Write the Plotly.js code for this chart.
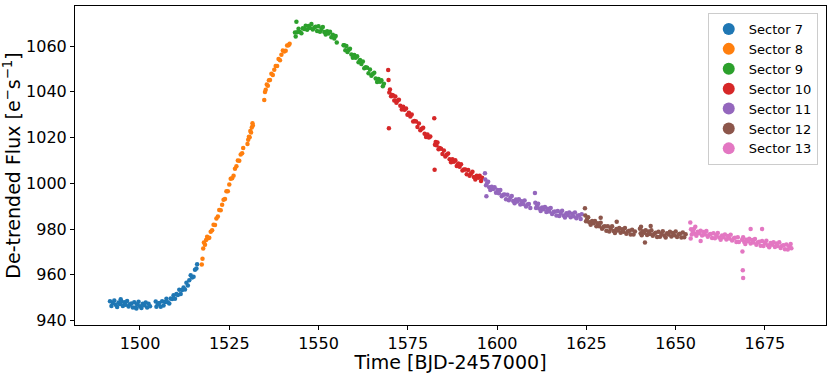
<!DOCTYPE html>
<html>
<head>
<meta charset="utf-8">
<script src="https://cdn.plot.ly/plotly-3.0.1.min.js"></script>
<style>
  html, body { margin: 0; padding: 0; background: #fff; }
  #plot { width: 831px; height: 373px; }
</style>
</head>
<body>
<div id="plot"></div>
<script>
// TESS light curve, one array pair per sector (time, flux)
var sectorNames = ['Sector 7', 'Sector 8', 'Sector 9', 'Sector 10', 'Sector 11', 'Sector 12', 'Sector 13'];
var sectorColors = ['#1f77b4', '#ff7f0e', '#2ca02c', '#d62728', '#9467bd', '#8c564b', '#e377c2'];

var s7_t = [1491.6, 1492.0, 1492.4, 1492.8, 1493.2, 1493.6, 1494.0, 1494.4, 1494.6, 1494.8, 1495.2, 1495.6, 1496.0, 1496.4, 1496.8, 1497.2, 1497.6, 1498.0, 1498.4, 1498.8, 1499.0, 1499.2, 1499.6, 1500.0, 1500.4, 1500.8, 1501.2, 1501.6, 1502.0, 1502.4, 1502.8,
  1504.4, 1504.6, 1505.0, 1505.4, 1505.8, 1506.2, 1506.6, 1507.0, 1507.4, 1507.8, 1508.2, 1508.6, 1509.0, 1509.4, 1509.8, 1510.2, 1510.6, 1511.0, 1511.4, 1511.8, 1512.2, 1512.6, 1513.0, 1513.4, 1513.8, 1514.2, 1514.6, 1515.0, 1515.4, 1515.8, 1516.0];
var s7_f = [948.5, 946.4, 947.7, 948.8, 946.9, 946.0, 947.9, 947.3, 949.4, 948.4, 946.4, 948.0, 946.9, 948.6, 946.2, 947.2, 947.5, 945.8, 948.0, 945.8, 945.3, 947.2, 948.3, 946.3, 945.5, 947.4, 946.7, 947.9, 945.8, 947.4, 946.3,
  948.4, 946.1, 947.2, 947.7, 946.1, 948.5, 946.6, 948.2, 949.6, 948.0, 947.5, 949.7, 949.5, 951.1, 949.6, 951.7, 951.2, 953.5, 951.7, 953.4, 954.5, 953.6, 956.6, 955.4, 957.7, 959.8, 958.9, 959.2, 962.2, 962.8, 964.7];

var s8_t = [1517.3, 1517.5, 1517.7, 1517.9, 1518.2, 1518.5, 1518.8, 1519.1, 1519.4, 1519.8, 1520.2, 1520.6, 1521.0, 1521.4, 1521.8, 1522.2, 1522.6, 1523.0, 1523.4, 1523.8, 1524.2, 1524.6, 1525.0, 1525.4, 1525.8, 1526.2, 1526.6, 1527.0, 1527.4, 1527.8, 1528.2, 1528.6, 1528.9,
  1530.1, 1530.3, 1530.5, 1530.7, 1530.9, 1531.1, 1531.3, 1531.5, 1531.6,
  1534.8, 1535.0, 1535.2, 1535.5, 1535.8, 1536.1, 1536.4, 1536.8, 1537.2, 1537.6, 1538.0, 1538.4, 1538.8, 1539.2, 1539.6, 1540.0, 1540.4, 1540.8, 1541.2, 1541.6, 1541.9];
var s8_f = [964.5, 967.0, 971.5, 974.2, 973.2, 975.2, 976.7, 976.0, 976.2, 978.8, 979.5, 981.9, 981.8, 984.6, 985.5, 988.4, 988.2, 990.7, 992.8, 993.2, 996.6, 996.6, 999.5, 1002.0, 1002.2, 1003.3, 1006.4, 1007.5, 1010.0, 1009.9, 1012.6, 1013.2, 1015.5,
  1017.2, 1019.0, 1020.4, 1020.1, 1022.9, 1022.2, 1024.4, 1026.3, 1025.3,
  1036.4, 1039.9, 1040.9, 1043.2, 1042.7, 1045.0, 1045.2, 1047.9, 1047.4, 1049.6, 1051.3, 1051.3, 1054.3, 1053.8, 1056.2, 1058.1, 1057.6, 1057.9, 1060.2, 1060.4, 1061.0];

var s9_t = [1543.4, 1543.6, 1543.8, 1544.0, 1544.4, 1544.8, 1545.2, 1545.6, 1546.0, 1546.4, 1546.8, 1547.2, 1547.6, 1548.0, 1548.4, 1548.8, 1549.2, 1549.6, 1550.0, 1550.4, 1550.8, 1551.2, 1551.6, 1552.0, 1552.4, 1552.8, 1553.2, 1553.6, 1554.0, 1554.4, 1554.8, 1555.1,
  1557.0, 1557.2, 1557.5, 1557.8, 1558.1, 1558.4, 1558.8, 1559.2, 1559.6, 1560.0, 1560.4, 1560.8, 1561.2, 1561.6, 1562.0, 1562.4, 1562.8, 1563.2, 1563.6, 1564.0, 1564.4, 1564.8, 1565.2, 1565.6, 1566.0, 1566.4, 1566.8, 1567.2, 1567.6, 1568.0, 1568.3];
var s9_f = [1065.9, 1064.2, 1070.6, 1066.0, 1067.6, 1066.1, 1065.6, 1067.8, 1067.5, 1068.9, 1067.1, 1068.8, 1067.9, 1069.6, 1067.2, 1068.1, 1068.4, 1066.6, 1068.6, 1066.3, 1067.5, 1068.3, 1066.1, 1065.0, 1066.5, 1065.5, 1066.3, 1063.8, 1064.9, 1063.3, 1064.4, 1061.5,
  1060.3, 1060.4, 1058.2, 1060.0, 1057.4, 1058.3, 1058.8, 1056.3, 1054.9, 1056.1, 1054.9, 1055.5, 1052.9, 1053.9, 1052.2, 1053.3, 1050.3, 1050.7, 1050.5, 1048.1, 1049.7, 1047.0, 1047.8, 1048.3, 1045.8, 1044.3, 1045.6, 1044.4, 1045.0, 1042.4, 1043.5];

var s10_t = [1569.5, 1569.6, 1569.7, 1569.8, 1570.0, 1570.3, 1570.6, 1570.9, 1571.2, 1571.5, 1571.8, 1572.1, 1572.5, 1572.9, 1573.3, 1573.7, 1574.1, 1574.5, 1574.9, 1575.3, 1575.7, 1576.1, 1576.5, 1576.9, 1577.3, 1577.7, 1578.1, 1578.5, 1578.9, 1579.3, 1579.7, 1580.1, 1580.5, 1580.9, 1581.3,
  1582.4, 1582.5, 1582.6, 1582.8, 1583.0, 1583.3, 1583.6, 1583.9, 1584.3, 1584.7, 1585.1, 1585.5, 1585.9, 1586.3, 1586.7, 1587.1, 1587.5, 1587.9, 1588.3, 1588.7, 1589.1, 1589.5, 1589.9, 1590.3, 1590.7, 1591.1, 1591.5, 1591.9, 1592.3, 1592.7, 1593.1, 1593.5, 1593.9, 1594.3, 1594.7, 1595.1, 1595.5, 1595.8];
var s10_f = [1049.5, 1045.2, 1024.1, 1039.7, 1041.0, 1038.1, 1038.6, 1038.4, 1036.2, 1037.9, 1035.2, 1036.1, 1036.5, 1033.9, 1032.3, 1033.5, 1032.2, 1032.7, 1030.0, 1030.9, 1029.2, 1030.1, 1027.0, 1027.3, 1027.0, 1024.6, 1026.1, 1023.2, 1023.9, 1024.3, 1021.7, 1020.2, 1021.4, 1020.0, 1020.5,
  1028.4, 1005.9, 1016.9, 1018.1, 1016.7, 1017.8, 1014.9, 1015.4, 1015.1, 1012.8, 1014.4, 1011.7, 1012.5, 1013.0, 1010.5, 1009.2, 1010.5, 1009.4, 1010.1, 1007.6, 1008.7, 1007.2, 1008.4, 1005.6, 1006.1, 1006.1, 1004.0, 1005.8, 1003.3, 1004.3, 1005.1, 1002.8, 1001.7, 1003.3, 1002.4, 1003.3, 1001.0, 1002.4];

var s11_t = [1596.6, 1596.7, 1596.9, 1597.0, 1597.2, 1597.5, 1597.8, 1598.1, 1598.5, 1598.9, 1599.3, 1599.7, 1600.1, 1600.5, 1600.9, 1601.3, 1601.7, 1602.1, 1602.5, 1602.9, 1603.3, 1603.7, 1604.1, 1604.5, 1604.9, 1605.3, 1605.7, 1606.1, 1606.5, 1606.9, 1607.3, 1607.7, 1608.1, 1608.5, 1608.9, 1609.3,
  1610.6, 1610.7, 1610.9, 1611.2, 1611.5, 1611.8, 1612.2, 1612.6, 1613.0, 1613.4, 1613.8, 1614.2, 1614.6, 1615.0, 1615.4, 1615.8, 1616.2, 1616.6, 1617.0, 1617.4, 1617.8, 1618.2, 1618.6, 1619.0, 1619.4, 1619.8, 1620.2, 1620.6, 1621.0, 1621.4, 1621.8, 1622.2, 1622.6, 1623.0, 1623.4, 1623.7];
var s11_f = [1004.4, 1001.7, 999.2, 994.4, 1000.1, 1000.7, 998.3, 997.1, 998.5, 997.5, 998.3, 995.9, 997.1, 995.7, 997.1, 994.4, 995.0, 995.1, 993.1, 995.0, 992.6, 993.7, 994.5, 992.3, 991.3, 992.9, 992.1, 993.0, 990.8, 992.2, 991.0, 992.5, 989.9, 990.8, 991.0, 989.2,
  995.8, 991.5, 989.2, 990.3, 991.1, 989.0, 987.9, 989.5, 988.7, 989.7, 987.5, 988.9, 987.7, 989.2, 986.6, 987.5, 987.7, 985.9, 987.9, 985.7, 987.0, 988.0, 986.0, 985.1, 986.9, 986.2, 987.3, 985.2, 986.7, 985.6, 987.3, 984.8, 985.8, 986.1, 984.4, 986.5];

var s12_t = [1624.6, 1624.7, 1624.9, 1625.2, 1625.5, 1625.8, 1626.2, 1626.6, 1627.0, 1627.4, 1627.8, 1628.2, 1628.6, 1629.0, 1629.0, 1629.4, 1629.8, 1630.2, 1630.6, 1631.0, 1631.4, 1631.8, 1632.2, 1632.6, 1633.0, 1633.4, 1633.5, 1633.8, 1634.2, 1634.6, 1635.0, 1635.4, 1635.8, 1636.2, 1636.6, 1637.0, 1637.4, 1637.8, 1638.2, 1638.6,
  1640.0, 1640.2, 1640.3, 1640.5, 1640.8, 1641.2, 1641.4, 1641.6, 1642.0, 1642.4, 1642.8, 1643.0, 1643.2, 1643.6, 1644.0, 1644.4, 1644.8, 1645.2, 1645.6, 1646.0, 1646.4, 1646.8, 1647.2, 1647.6, 1648.0, 1648.4, 1648.8, 1649.2, 1649.6, 1650.0, 1650.4, 1650.8, 1651.2, 1651.6, 1652.0, 1652.4, 1652.8];
var s12_f = [989.1, 985.9, 983.4, 984.4, 985.2, 983.0, 981.9, 983.5, 982.6, 983.5, 981.2, 982.6, 981.3, 982.8, 985.0, 980.2, 981.0, 981.2, 979.3, 981.3, 979.0, 980.2, 981.2, 979.2, 978.3, 980.1, 983.2, 979.4, 980.5, 978.4, 979.9, 978.8, 980.5, 978.0, 979.0, 979.3, 977.6, 979.7, 977.6, 979.0,
  980.2, 978.2, 981.0, 977.3, 979.1, 978.4, 974.2, 979.5, 977.4, 979.0, 977.9, 981.4, 979.5, 977.1, 978.0, 978.4, 976.6, 978.8, 976.7, 978.0, 979.1, 977.2, 976.3, 978.2, 977.6, 978.8, 976.8, 978.3, 977.3, 979.0, 976.6, 977.6, 978.0, 976.3, 978.5, 976.4, 977.8];

var s13_t = [1654.1, 1654.2, 1654.3, 1654.5, 1654.8, 1655.1, 1655.4, 1655.5, 1655.8, 1656.2, 1656.6, 1657.0, 1657.0, 1657.4, 1657.8, 1658.2, 1658.6, 1659.0, 1659.4, 1659.8, 1660.2, 1660.6, 1661.0, 1661.4, 1661.8, 1662.2, 1662.6, 1663.0, 1663.4, 1663.8, 1664.2, 1664.6, 1665.0, 1665.4, 1665.8, 1666.2, 1666.6, 1667.0, 1667.4, 1667.7,
  1668.6, 1668.7, 1668.8, 1668.9, 1668.9, 1669.2, 1669.5, 1669.8, 1670.2, 1670.6, 1671.0, 1671.0, 1671.4, 1671.8, 1672.2, 1672.6, 1673.0, 1673.4, 1673.8, 1674.2, 1674.2, 1674.6, 1675.0, 1675.4, 1675.8, 1676.2, 1676.6, 1677.0, 1677.4, 1677.8, 1678.2, 1678.6, 1679.0, 1679.4, 1679.8, 1680.2, 1680.6, 1681.0, 1681.4, 1681.8, 1682.2, 1682.4];
var s13_f = [982.9, 975.9, 979.9, 977.7, 979.0, 980.0, 978.0, 981.0, 977.1, 978.9, 978.2, 979.3, 974.8, 977.2, 978.7, 977.6, 979.2, 976.7, 977.6, 977.9, 976.1, 978.2, 976.0, 977.3, 978.3, 976.3, 975.4, 977.2, 976.5, 977.6, 975.5, 977.0, 975.9, 977.5, 975.0, 975.9, 976.2, 974.4, 976.5, 974.4,
  975.4, 970.2, 962.0, 958.6, 976.4, 974.4, 973.5, 975.4, 974.7, 975.8, 973.7, 980.0, 975.2, 974.1, 975.7, 973.2, 974.2, 974.5, 972.7, 974.8, 980.0, 972.6, 973.9, 974.9, 973.0, 972.1, 973.9, 973.2, 974.3, 972.2, 973.7, 972.6, 974.3, 971.8, 972.7, 973.0, 971.2, 973.3, 971.1, 972.5, 973.5, 971.6];

var xTicks = [1500, 1525, 1550, 1575, 1600, 1625, 1650, 1675];
var yTicks = [940, 960, 980, 1000, 1020, 1040, 1060];

var times = [s7_t, s8_t, s9_t, s10_t, s11_t, s12_t, s13_t];
var fluxes = [s7_f, s8_f, s9_f, s10_f, s11_f, s12_f, s13_f];

var data = [];
for (var i = 0; i < sectorNames.length; i++) {
    data.push({
        x: times[i],
        y: fluxes[i],
        type: 'scatter',
        mode: 'markers',
        name: sectorNames[i],
        marker: {
            color: sectorColors[i],
            size: 4.5
        }
    });
}

var layout = {
    width: 831,
    height: 373,
    margin: {l: 75, r: 5, t: 6, b: 48},
    paper_bgcolor: '#ffffff',
    plot_bgcolor: '#ffffff',
    font: {
        family: 'DejaVu Sans, sans-serif',
        color: '#000000',
        size: 16
    },
    showlegend: true,
    legend: {
        x: 0.989,
        y: 0.978,
        xanchor: 'right',
        yanchor: 'top',
        bgcolor: 'rgba(255,255,255,0.8)',
        bordercolor: '#cccccc',
        borderwidth: 1,
        itemsizing: 'constant',
        font: {size: 13}
    },
    xaxis: {
        title: {text: 'Time [BJD-2457000]', standoff: 2},
        automargin: true,
        range: [1481.8, 1692.1],
        tickvals: xTicks,
        ticks: 'outside',
        ticklen: 4,
        tickcolor: '#000',
        showgrid: false,
        zeroline: false,
        showline: true,
        mirror: true,
        linecolor: '#000',
        linewidth: 1
    },
    yaxis: {
        title: {text: 'De-trended Flux [e<sup>\u2212</sup>s<sup>\u22121</sup>]', standoff: 6},
        range: [938.1, 1077.5],
        tickvals: yTicks,
        ticks: 'outside',
        ticklen: 4,
        tickcolor: '#000',
        showgrid: false,
        zeroline: false,
        showline: true,
        mirror: true,
        linecolor: '#000',
        linewidth: 1
    }
};

var options = {
    displayModeBar: false,
    staticPlot: true
};

Plotly.newPlot('plot', data, layout, options);
</script>
</body>
</html>
